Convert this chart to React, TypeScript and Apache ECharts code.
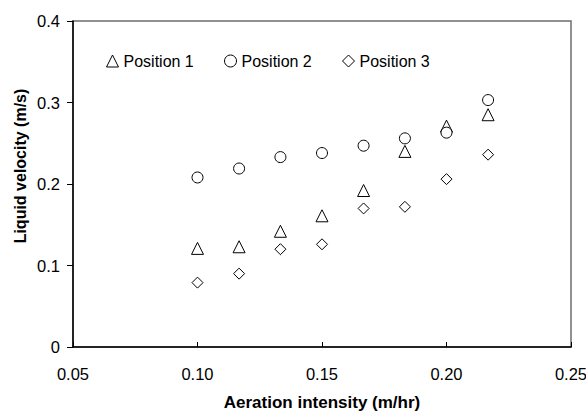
import React, { useEffect, useRef } from "react";
import * as echarts from "echarts";

const xValues = [0.1, 0.1167, 0.1333, 0.15, 0.1667, 0.1833, 0.2, 0.2167];
const position1 = [0.121, 0.123, 0.142, 0.161, 0.192, 0.24, 0.271, 0.285];
const position2 = [0.208, 0.219, 0.233, 0.238, 0.247, 0.256, 0.263, 0.303];
const position3 = [0.079, 0.09, 0.12, 0.126, 0.17, 0.172, 0.206, 0.236];
const seriesNames = ["Position 1", "Position 2", "Position 3"];
const seriesSymbols = ["triangle", "circle", "diamond"];
const xTitle = "Aeration intensity (m/hr)";
const yTitle = "Liquid velocity (m/s)";

export default function App() {
  const ref = useRef<HTMLDivElement>(null);
  useEffect(() => {
    document.body.style.margin = "0";
    const chart = echarts.init(ref.current!, null, { renderer: "svg" });
    const allData = [position1, position2, position3];
    const font = "Liberation Sans, Arial, sans-serif";
    const legendLefts = [106, 224, 342];
    chart.setOption({
      animation: false,
      backgroundColor: "#fff",
      grid: {
        left: 73,
        top: 21,
        right: 15,
        bottom: 65,
        containLabel: false,
        outerBoundsMode: "none",
        show: true,
        borderColor: "#6e6e6e",
        borderWidth: 1.5,
      },
      legend: seriesNames.map((name, i) => ({
        left: legendLefts[i],
        top: 53,
        padding: 0,
        itemWidth: 12,
        itemHeight: 12,
        itemStyle: { color: "#fff", borderColor: "#000", borderWidth: 1 },
        textStyle: { fontFamily: font, fontSize: 16, color: "#000" },
        data: [name],
      })),
      graphic: [
        {
          type: "text",
          x: 20,
          y: 166,
          rotation: Math.PI / 2,
          style: {
            text: yTitle,
            fontFamily: font,
            fontSize: 16,
            fontWeight: "bold",
            fill: "#000",
            align: "center",
            verticalAlign: "middle",
          },
        },
      ],
      xAxis: {
        type: "value",
        min: 0.05,
        max: 0.25,
        interval: 0.05,
        name: xTitle,
        nameLocation: "middle",
        nameGap: 47,
        nameTextStyle: { fontFamily: font, fontSize: 17, fontWeight: "bold", color: "#000" },
        axisLine: { lineStyle: { color: "#000", width: 1.5 } },
        axisTick: { inside: true, length: 5, lineStyle: { color: "#000" } },
        axisLabel: {
          fontFamily: font,
          fontSize: 16.5,
          color: "#000",
          margin: 18,
          formatter: (v: number) => v.toFixed(2),
        },
        splitLine: { show: false },
      },
      yAxis: {
        type: "value",
        min: 0,
        max: 0.4,
        interval: 0.1,
        axisLine: { show: true, lineStyle: { color: "#000", width: 1.5 } },
        axisTick: { show: true, inside: false, length: 6, lineStyle: { color: "#000" } },
        axisLabel: {
          fontFamily: font,
          fontSize: 16.5,
          color: "#000",
          margin: 13,
          formatter: (v: number) => (v === 0 ? "0" : v.toFixed(1)),
        },
        splitLine: { show: false },
      },
      series: seriesNames.map((name, i) => ({
        name,
        type: "scatter",
        symbol: seriesSymbols[i],
        symbolSize: i === 0 ? 12 : 11,
        itemStyle: { color: "#fff", borderColor: "#000", borderWidth: 1, opacity: 1 },
        data: xValues.map((x, j) => [x, allData[i][j]]),
      })),
    });
    return () => chart.dispose();
  }, []);
  return <div ref={ref} style={{ width: 586, height: 412 }} />;
}
